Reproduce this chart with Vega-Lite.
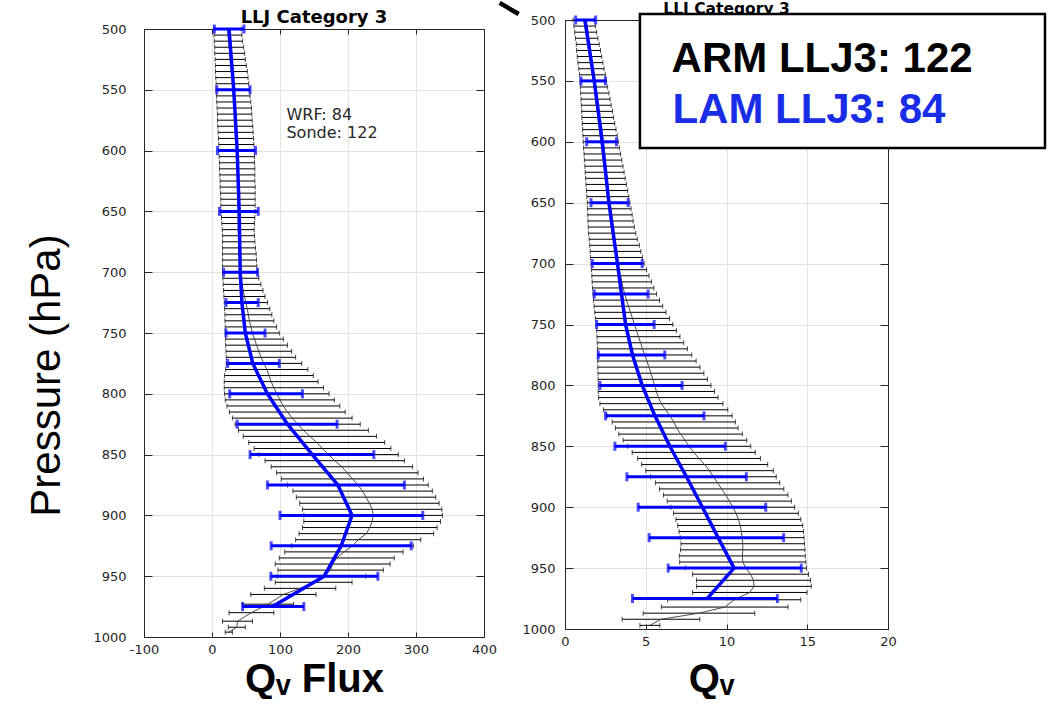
{
  "$schema": "https://vega.github.io/schema/vega-lite/v6.json",
  "background": "white",
  "padding": {"left": 25, "top": 0, "right": 0, "bottom": 0},
  "bounds": "flush",
  "spacing": 81,
  "config": {
    "view": {"stroke": null},
    "axis": {
      "domainColor": "#262626",
      "domainWidth": 1,
      "tickColor": "#262626",
      "tickWidth": 1,
      "labelColor": "#262626",
      "labelFont": "DejaVu Sans",
      "labelFontSize": 13,
      "labelFlush": false,
      "gridColor": "#e3e3e3",
      "gridWidth": 1,
      "titleColor": "#000000",
      "titleFont": "Liberation Sans"
    }
  },
  "datasets": {
    "sondeFlux": [
      {"p": 500, "lo": 3, "hi": 43, "mean": 23},
      {"p": 505, "lo": 3, "hi": 44, "mean": 23.5},
      {"p": 510, "lo": 3.5, "hi": 45, "mean": 24.3},
      {"p": 515, "lo": 4, "hi": 46.5, "mean": 25.3},
      {"p": 520, "lo": 4, "hi": 48, "mean": 26},
      {"p": 525, "lo": 4.5, "hi": 49, "mean": 26.8},
      {"p": 530, "lo": 5, "hi": 50.5, "mean": 27.8},
      {"p": 535, "lo": 5, "hi": 52, "mean": 28.5},
      {"p": 540, "lo": 5.5, "hi": 53, "mean": 29.3},
      {"p": 545, "lo": 6, "hi": 54, "mean": 30},
      {"p": 550, "lo": 6, "hi": 55, "mean": 30.5},
      {"p": 555, "lo": 6.5, "hi": 56, "mean": 31.3},
      {"p": 560, "lo": 7, "hi": 57, "mean": 32},
      {"p": 565, "lo": 7.5, "hi": 58, "mean": 32.8},
      {"p": 570, "lo": 8, "hi": 58.5, "mean": 33.3},
      {"p": 575, "lo": 8, "hi": 59, "mean": 33.5},
      {"p": 580, "lo": 8.5, "hi": 60, "mean": 34.3},
      {"p": 585, "lo": 9, "hi": 60.5, "mean": 34.8},
      {"p": 590, "lo": 9.5, "hi": 61, "mean": 35.3},
      {"p": 595, "lo": 10, "hi": 61.5, "mean": 35.8},
      {"p": 600, "lo": 10, "hi": 62, "mean": 36},
      {"p": 605, "lo": 10.5, "hi": 62.5, "mean": 36.5},
      {"p": 610, "lo": 11, "hi": 62.5, "mean": 36.8},
      {"p": 615, "lo": 11, "hi": 63, "mean": 37},
      {"p": 620, "lo": 11.5, "hi": 63, "mean": 37.3},
      {"p": 625, "lo": 12, "hi": 63, "mean": 37.5},
      {"p": 630, "lo": 12, "hi": 63.5, "mean": 37.8},
      {"p": 635, "lo": 12.5, "hi": 63.5, "mean": 38},
      {"p": 640, "lo": 13, "hi": 63.5, "mean": 38.3},
      {"p": 645, "lo": 13, "hi": 63.5, "mean": 38.3},
      {"p": 650, "lo": 13.5, "hi": 63.5, "mean": 38.5},
      {"p": 655, "lo": 14, "hi": 63, "mean": 38.5},
      {"p": 660, "lo": 14.5, "hi": 62.5, "mean": 38.5},
      {"p": 665, "lo": 15, "hi": 62, "mean": 38.5},
      {"p": 670, "lo": 15.5, "hi": 62.5, "mean": 39},
      {"p": 675, "lo": 15.5, "hi": 63, "mean": 39.3},
      {"p": 680, "lo": 15.5, "hi": 64, "mean": 39.8},
      {"p": 685, "lo": 15.5, "hi": 65, "mean": 40.3},
      {"p": 690, "lo": 15.5, "hi": 65.5, "mean": 40.5},
      {"p": 695, "lo": 15.5, "hi": 66, "mean": 40.8},
      {"p": 700, "lo": 15.5, "hi": 67, "mean": 41.3},
      {"p": 705, "lo": 16, "hi": 69, "mean": 42.5},
      {"p": 710, "lo": 16.5, "hi": 72, "mean": 44.3},
      {"p": 715, "lo": 17, "hi": 75, "mean": 46},
      {"p": 720, "lo": 17.5, "hi": 78, "mean": 47.8},
      {"p": 725, "lo": 18, "hi": 81.5, "mean": 49.8},
      {"p": 730, "lo": 18.5, "hi": 85, "mean": 51.8},
      {"p": 735, "lo": 19, "hi": 88, "mean": 53.5},
      {"p": 740, "lo": 19, "hi": 91, "mean": 55},
      {"p": 745, "lo": 19.5, "hi": 95, "mean": 57.3},
      {"p": 750, "lo": 19.5, "hi": 99, "mean": 59.3},
      {"p": 755, "lo": 20, "hi": 105, "mean": 62.5},
      {"p": 760, "lo": 20, "hi": 111, "mean": 65.5},
      {"p": 765, "lo": 20.5, "hi": 117, "mean": 68.8},
      {"p": 770, "lo": 21, "hi": 123, "mean": 72},
      {"p": 775, "lo": 21, "hi": 132, "mean": 76.5},
      {"p": 780, "lo": 20, "hi": 141, "mean": 80.5},
      {"p": 785, "lo": 18.5, "hi": 149, "mean": 83.8},
      {"p": 790, "lo": 18, "hi": 156, "mean": 87},
      {"p": 795, "lo": 18, "hi": 164, "mean": 91},
      {"p": 800, "lo": 18.5, "hi": 172, "mean": 95.3},
      {"p": 805, "lo": 19.5, "hi": 180, "mean": 99.8},
      {"p": 810, "lo": 22, "hi": 188, "mean": 105},
      {"p": 815, "lo": 25.5, "hi": 196, "mean": 110.8},
      {"p": 820, "lo": 30, "hi": 206, "mean": 118},
      {"p": 825, "lo": 34, "hi": 218, "mean": 126},
      {"p": 830, "lo": 39, "hi": 230, "mean": 134.5},
      {"p": 835, "lo": 46, "hi": 242, "mean": 144},
      {"p": 840, "lo": 54, "hi": 254, "mean": 154},
      {"p": 845, "lo": 62, "hi": 263, "mean": 162.5},
      {"p": 850, "lo": 69, "hi": 274, "mean": 171.5},
      {"p": 855, "lo": 78, "hi": 283, "mean": 180.5},
      {"p": 860, "lo": 87, "hi": 295, "mean": 191},
      {"p": 865, "lo": 95, "hi": 303, "mean": 199},
      {"p": 870, "lo": 102, "hi": 311, "mean": 206.5},
      {"p": 875, "lo": 111, "hi": 318, "mean": 214.5},
      {"p": 880, "lo": 119, "hi": 324, "mean": 221.5},
      {"p": 885, "lo": 124, "hi": 329, "mean": 226.5},
      {"p": 890, "lo": 129, "hi": 334, "mean": 231.5},
      {"p": 895, "lo": 133, "hi": 338, "mean": 235.5},
      {"p": 900, "lo": 135, "hi": 339, "mean": 237},
      {"p": 905, "lo": 135, "hi": 336, "mean": 235.5},
      {"p": 910, "lo": 133, "hi": 331, "mean": 232},
      {"p": 915, "lo": 128, "hi": 326, "mean": 227},
      {"p": 920, "lo": 123, "hi": 307, "mean": 215},
      {"p": 925, "lo": 117, "hi": 296, "mean": 206.5},
      {"p": 930, "lo": 107, "hi": 281, "mean": 194},
      {"p": 935, "lo": 99, "hi": 268, "mean": 183.5},
      {"p": 940, "lo": 93, "hi": 262, "mean": 177.5},
      {"p": 945, "lo": 97, "hi": 252, "mean": 174.5},
      {"p": 950, "lo": 96, "hi": 226, "mean": 161},
      {"p": 955, "lo": 93, "hi": 206, "mean": 149.5},
      {"p": 960, "lo": 77, "hi": 182, "mean": 129.5},
      {"p": 965, "lo": 57, "hi": 153, "mean": 105},
      {"p": 973, "lo": 45, "hi": 120, "mean": 82.5},
      {"p": 980, "lo": 25, "hi": 91, "mean": 58},
      {"p": 987, "lo": 15.5, "hi": 59.5, "mean": 37.5},
      {"p": 992, "lo": 24, "hi": 49, "mean": 36.5},
      {"p": 996, "lo": 19.5, "hi": 30, "mean": 24.8}
    ],
    "wrfFlux": [
      {"p": 500, "lo": 3.4, "mean": 25, "hi": 47},
      {"p": 550, "lo": 7, "mean": 32, "hi": 56},
      {"p": 600, "lo": 8, "mean": 37, "hi": 64},
      {"p": 650, "lo": 11, "mean": 40, "hi": 68},
      {"p": 700, "lo": 17, "mean": 41.5, "hi": 67},
      {"p": 725, "lo": 20.5, "mean": 44, "hi": 68},
      {"p": 750, "lo": 20.5, "mean": 49, "hi": 78},
      {"p": 775, "lo": 23, "mean": 60, "hi": 99},
      {"p": 800, "lo": 26, "mean": 81.5, "hi": 133},
      {"p": 825, "lo": 37, "mean": 111, "hi": 184},
      {"p": 850, "lo": 56, "mean": 147.5, "hi": 238},
      {"p": 875, "lo": 81.5, "mean": 185, "hi": 283},
      {"p": 900, "lo": 100, "mean": 206, "hi": 310},
      {"p": 925, "lo": 87, "mean": 190, "hi": 293},
      {"p": 950, "lo": 86.5, "mean": 165, "hi": 244},
      {"p": 975, "lo": 45, "mean": 89, "hi": 135}
    ],
    "sondeQv": [
      {"p": 500, "lo": 0.5, "hi": 1.8, "mean": 1.15},
      {"p": 505, "lo": 0.55, "hi": 1.88, "mean": 1.22},
      {"p": 510, "lo": 0.6, "hi": 1.96, "mean": 1.28},
      {"p": 515, "lo": 0.65, "hi": 2.04, "mean": 1.35},
      {"p": 520, "lo": 0.7, "hi": 2.12, "mean": 1.41},
      {"p": 525, "lo": 0.72, "hi": 2.2, "mean": 1.46},
      {"p": 530, "lo": 0.76, "hi": 2.27, "mean": 1.52},
      {"p": 535, "lo": 0.8, "hi": 2.35, "mean": 1.58},
      {"p": 540, "lo": 0.85, "hi": 2.42, "mean": 1.64},
      {"p": 545, "lo": 0.9, "hi": 2.5, "mean": 1.7},
      {"p": 550, "lo": 0.93, "hi": 2.57, "mean": 1.75},
      {"p": 555, "lo": 0.95, "hi": 2.64, "mean": 1.8},
      {"p": 560, "lo": 0.97, "hi": 2.72, "mean": 1.85},
      {"p": 565, "lo": 0.99, "hi": 2.79, "mean": 1.89},
      {"p": 570, "lo": 1.01, "hi": 2.86, "mean": 1.94},
      {"p": 575, "lo": 1.03, "hi": 2.94, "mean": 1.99},
      {"p": 580, "lo": 1.05, "hi": 3.01, "mean": 2.03},
      {"p": 585, "lo": 1.07, "hi": 3.08, "mean": 2.08},
      {"p": 590, "lo": 1.09, "hi": 3.16, "mean": 2.13},
      {"p": 595, "lo": 1.11, "hi": 3.23, "mean": 2.17},
      {"p": 600, "lo": 1.13, "hi": 3.3, "mean": 2.22},
      {"p": 605, "lo": 1.15, "hi": 3.37, "mean": 2.26},
      {"p": 610, "lo": 1.18, "hi": 3.44, "mean": 2.31},
      {"p": 615, "lo": 1.2, "hi": 3.52, "mean": 2.36},
      {"p": 620, "lo": 1.23, "hi": 3.59, "mean": 2.41},
      {"p": 625, "lo": 1.25, "hi": 3.66, "mean": 2.46},
      {"p": 630, "lo": 1.28, "hi": 3.73, "mean": 2.51},
      {"p": 635, "lo": 1.3, "hi": 3.8, "mean": 2.55},
      {"p": 640, "lo": 1.33, "hi": 3.88, "mean": 2.61},
      {"p": 645, "lo": 1.35, "hi": 3.95, "mean": 2.65},
      {"p": 650, "lo": 1.38, "hi": 4.02, "mean": 2.7},
      {"p": 655, "lo": 1.39, "hi": 4.09, "mean": 2.74},
      {"p": 660, "lo": 1.41, "hi": 4.16, "mean": 2.79},
      {"p": 665, "lo": 1.42, "hi": 4.22, "mean": 2.82},
      {"p": 670, "lo": 1.44, "hi": 4.29, "mean": 2.87},
      {"p": 675, "lo": 1.46, "hi": 4.38, "mean": 2.92},
      {"p": 680, "lo": 1.5, "hi": 4.48, "mean": 2.99},
      {"p": 685, "lo": 1.53, "hi": 4.6, "mean": 3.07},
      {"p": 690, "lo": 1.56, "hi": 4.7, "mean": 3.13},
      {"p": 695, "lo": 1.58, "hi": 4.8, "mean": 3.19},
      {"p": 700, "lo": 1.61, "hi": 4.9, "mean": 3.26},
      {"p": 705, "lo": 1.63, "hi": 5.05, "mean": 3.34},
      {"p": 710, "lo": 1.66, "hi": 5.2, "mean": 3.43},
      {"p": 715, "lo": 1.68, "hi": 5.35, "mean": 3.52},
      {"p": 720, "lo": 1.7, "hi": 5.5, "mean": 3.6},
      {"p": 725, "lo": 1.73, "hi": 5.67, "mean": 3.7},
      {"p": 730, "lo": 1.76, "hi": 5.85, "mean": 3.81},
      {"p": 735, "lo": 1.8, "hi": 6.05, "mean": 3.93},
      {"p": 740, "lo": 1.84, "hi": 6.25, "mean": 4.05},
      {"p": 745, "lo": 1.88, "hi": 6.47, "mean": 4.18},
      {"p": 750, "lo": 1.92, "hi": 6.68, "mean": 4.3},
      {"p": 755, "lo": 1.96, "hi": 6.9, "mean": 4.43},
      {"p": 760, "lo": 1.98, "hi": 7.12, "mean": 4.55},
      {"p": 765, "lo": 2.0, "hi": 7.35, "mean": 4.68},
      {"p": 770, "lo": 2.01, "hi": 7.58, "mean": 4.8},
      {"p": 775, "lo": 2.02, "hi": 7.85, "mean": 4.94},
      {"p": 780, "lo": 2.02, "hi": 8.12, "mean": 5.07},
      {"p": 785, "lo": 2.03, "hi": 8.36, "mean": 5.2},
      {"p": 790, "lo": 2.04, "hi": 8.6, "mean": 5.32},
      {"p": 795, "lo": 2.05, "hi": 8.82, "mean": 5.44},
      {"p": 800, "lo": 2.06, "hi": 9.04, "mean": 5.55},
      {"p": 805, "lo": 2.06, "hi": 9.26, "mean": 5.66},
      {"p": 810, "lo": 2.08, "hi": 9.48, "mean": 5.78},
      {"p": 815, "lo": 2.16, "hi": 9.78, "mean": 5.97},
      {"p": 820, "lo": 2.38, "hi": 10.08, "mean": 6.23},
      {"p": 825, "lo": 2.62, "hi": 10.35, "mean": 6.49},
      {"p": 830, "lo": 2.92, "hi": 10.55, "mean": 6.74},
      {"p": 835, "lo": 3.12, "hi": 10.72, "mean": 6.92},
      {"p": 840, "lo": 3.33, "hi": 10.98, "mean": 7.16},
      {"p": 845, "lo": 3.6, "hi": 11.25, "mean": 7.43},
      {"p": 850, "lo": 3.88, "hi": 11.5, "mean": 7.69},
      {"p": 855, "lo": 4.16, "hi": 11.78, "mean": 7.97},
      {"p": 860, "lo": 4.5, "hi": 12.1, "mean": 8.3},
      {"p": 865, "lo": 4.75, "hi": 12.55, "mean": 8.65},
      {"p": 870, "lo": 5.0, "hi": 12.9, "mean": 8.95},
      {"p": 875, "lo": 5.3, "hi": 13.08, "mean": 9.19},
      {"p": 880, "lo": 5.6, "hi": 13.3, "mean": 9.45},
      {"p": 885, "lo": 5.85, "hi": 13.55, "mean": 9.7},
      {"p": 890, "lo": 6.1, "hi": 13.8, "mean": 9.95},
      {"p": 895, "lo": 6.33, "hi": 14.02, "mean": 10.18},
      {"p": 900, "lo": 6.55, "hi": 14.22, "mean": 10.39},
      {"p": 905, "lo": 6.72, "hi": 14.45, "mean": 10.59},
      {"p": 910, "lo": 6.87, "hi": 14.6, "mean": 10.74},
      {"p": 915, "lo": 6.98, "hi": 14.72, "mean": 10.85},
      {"p": 920, "lo": 7.06, "hi": 14.77, "mean": 10.92},
      {"p": 925, "lo": 7.13, "hi": 14.8, "mean": 10.97},
      {"p": 930, "lo": 7.18, "hi": 14.83, "mean": 11.01},
      {"p": 935, "lo": 7.15, "hi": 14.86, "mean": 11.01},
      {"p": 940, "lo": 7.08, "hi": 14.88, "mean": 10.98},
      {"p": 945, "lo": 7.1, "hi": 14.91, "mean": 11.01},
      {"p": 950, "lo": 7.45, "hi": 14.95, "mean": 11.2},
      {"p": 955, "lo": 7.9, "hi": 15.08, "mean": 11.49},
      {"p": 960, "lo": 8.14, "hi": 15.2, "mean": 11.67},
      {"p": 965, "lo": 8.14, "hi": 15.25, "mean": 11.7},
      {"p": 970, "lo": 7.9, "hi": 14.98, "mean": 11.44},
      {"p": 976, "lo": 6.35, "hi": 14.6, "mean": 10.48},
      {"p": 982, "lo": 5.97, "hi": 13.81, "mean": 9.89},
      {"p": 987, "lo": 4.84, "hi": 11.75, "mean": 8.3},
      {"p": 992, "lo": 3.54, "hi": 8.35, "mean": 5.95},
      {"p": 997, "lo": 4.64, "hi": 5.87, "mean": 5.26}
    ],
    "wrfQv": [
      {"p": 500, "lo": 0.66, "mean": 1.24, "hi": 1.9},
      {"p": 550, "lo": 0.99, "mean": 1.81, "hi": 2.5},
      {"p": 600, "lo": 1.34, "mean": 2.31, "hi": 3.19},
      {"p": 650, "lo": 1.61, "mean": 2.72, "hi": 3.91},
      {"p": 700, "lo": 1.69, "mean": 3.25, "hi": 4.78},
      {"p": 725, "lo": 1.81, "mean": 3.5, "hi": 5.15},
      {"p": 750, "lo": 1.96, "mean": 3.75, "hi": 5.52},
      {"p": 775, "lo": 2.06, "mean": 4.18, "hi": 6.18},
      {"p": 800, "lo": 2.16, "mean": 4.78, "hi": 7.25},
      {"p": 825, "lo": 2.51, "mean": 5.57, "hi": 8.61},
      {"p": 850, "lo": 3.09, "mean": 6.49, "hi": 9.93},
      {"p": 875, "lo": 3.83, "mean": 7.52, "hi": 11.23},
      {"p": 900, "lo": 4.53, "mean": 8.51, "hi": 12.43},
      {"p": 925, "lo": 5.21, "mean": 9.48, "hi": 13.54},
      {"p": 950, "lo": 6.39, "mean": 10.47, "hi": 14.63},
      {"p": 975, "lo": 4.18, "mean": 8.8, "hi": 13.15}
    ]
  },
  "hconcat": [
    {
      "width": 340,
      "height": 608,
      "resolve": {"axis": {"x": "independent", "y": "independent"}},
      "layer": [
        {
          "data": {"name": "sondeFlux"},
          "mark": {"type": "rule", "color": "#000000", "strokeWidth": 1},
          "encoding": {
            "x": {
              "field": "lo", "type": "quantitative",
              "scale": {"domain": [-100, 400], "nice": false, "zero": false},
              "axis": {
                "orient": "bottom", "values": [-100, 0, 100, 200, 300, 400],
                "grid": true, "tickSize": -5, "labelPadding": 11,
                "labelExpr": "datum.value < 0 ? '-' + (-datum.value) : datum.label",
                "title": "Qᵥ Flux", "titleFontSize": 40, "titleFontWeight": "bold", "titlePadding": 3
              }
            },
            "x2": {"field": "hi"},
            "y": {
              "field": "p", "type": "quantitative",
              "scale": {"domain": [500, 1000], "reverse": true, "nice": false, "zero": false},
              "axis": {
                "orient": "left", "values": [500, 550, 600, 650, 700, 750, 800, 850, 900, 950, 1000],
                "format": "d", "grid": true, "tickSize": -8, "labelPadding": 26,
                "title": "Pressure (hPa)", "titleFontSize": 42, "titleFontWeight": "normal",
                "titlePadding": 24.5, "titleY": 346
              }
            }
          }
        },
        {
          "data": {"name": "sondeFlux"},
          "mark": {"type": "tick", "orient": "vertical", "size": 5, "thickness": 1, "color": "#000000"},
          "encoding": {
            "x": {"field": "lo", "type": "quantitative",
              "axis": {"orient": "top", "values": [-100, 0, 100, 200, 300, 400], "labels": false, "grid": false, "tickSize": -5, "title": null}},
            "y": {"field": "p", "type": "quantitative",
              "axis": {"orient": "right", "values": [500, 550, 600, 650, 700, 750, 800, 850, 900, 950, 1000], "labels": false, "grid": false, "tickSize": -8, "title": null}}
          }
        },
        {
          "data": {"name": "sondeFlux"},
          "mark": {"type": "tick", "orient": "vertical", "size": 5, "thickness": 1, "color": "#000000"},
          "encoding": {
            "x": {"field": "hi", "type": "quantitative", "axis": null},
            "y": {"field": "p", "type": "quantitative", "axis": null}
          }
        },
        {
          "data": {"name": "sondeFlux"},
          "mark": {"type": "line", "color": "#3a3a3a", "strokeWidth": 0.9},
          "encoding": {
            "x": {"field": "mean", "type": "quantitative", "axis": null},
            "y": {"field": "p", "type": "quantitative", "axis": null},
            "order": {"field": "p", "type": "quantitative"}
          }
        },
        {
          "data": {"name": "wrfFlux"},
          "mark": {"type": "rule", "color": "#0000ff", "strokeWidth": 3},
          "encoding": {
            "x": {"field": "lo", "type": "quantitative", "axis": null},
            "x2": {"field": "hi"},
            "y": {"field": "p", "type": "quantitative", "axis": null}
          }
        },
        {
          "data": {"name": "wrfFlux"},
          "mark": {"type": "tick", "orient": "vertical", "size": 9, "thickness": 3, "color": "#0000ff"},
          "encoding": {
            "x": {"field": "lo", "type": "quantitative", "axis": null},
            "y": {"field": "p", "type": "quantitative", "axis": null}
          }
        },
        {
          "data": {"name": "wrfFlux"},
          "mark": {"type": "tick", "orient": "vertical", "size": 9, "thickness": 3, "color": "#0000ff"},
          "encoding": {
            "x": {"field": "hi", "type": "quantitative", "axis": null},
            "y": {"field": "p", "type": "quantitative", "axis": null}
          }
        },
        {
          "data": {"name": "wrfFlux"},
          "mark": {"type": "line", "color": "#0000ff", "strokeWidth": 3.5},
          "encoding": {
            "x": {"field": "mean", "type": "quantitative", "axis": null},
            "y": {"field": "p", "type": "quantitative", "axis": null},
            "order": {"field": "p", "type": "quantitative"}
          }
        },
        {
          "data": {"values": [
            {"label": "WRF: 84", "flux": 109.5, "p": 575},
            {"label": "Sonde: 122", "flux": 109.5, "p": 589.4}
          ]},
          "mark": {"type": "text", "align": "left", "baseline": "alphabetic", "font": "DejaVu Sans", "fontSize": 16, "color": "#262626"},
          "encoding": {
            "x": {"field": "flux", "type": "quantitative", "axis": null},
            "y": {"field": "p", "type": "quantitative", "axis": null},
            "text": {"field": "label"}
          }
        },
        {
          "data": {"values": [{"label": "LLJ Category 3", "flux": 150, "p": 494.7}]},
          "mark": {"type": "text", "align": "center", "baseline": "alphabetic", "font": "DejaVu Sans", "fontWeight": "bold", "fontSize": 18, "color": "#000000"},
          "encoding": {
            "x": {"field": "flux", "type": "quantitative", "axis": null},
            "y": {"field": "p", "type": "quantitative", "axis": null},
            "text": {"field": "label"}
          }
        },
        {
          "data": {"values": [{"x0": 423, "x1": 451, "p0": 478.5, "p1": 487.7}]},
          "mark": {"type": "rule", "color": "#000000", "strokeWidth": 4.5},
          "encoding": {
            "x": {"field": "x0", "type": "quantitative", "axis": null},
            "x2": {"field": "x1"},
            "y": {"field": "p0", "type": "quantitative", "axis": null},
            "y2": {"field": "p1"}
          }
        }
      ]
    },
    {
      "width": 323,
      "height": 600,
      "resolve": {"axis": {"x": "independent", "y": "independent"}},
      "layer": [
        {
          "data": {"name": "sondeQv"},
          "mark": {"type": "rule", "color": "#000000", "strokeWidth": 1},
          "encoding": {
            "x": {
              "field": "lo", "type": "quantitative",
              "scale": {"domain": [0, 20], "nice": false, "zero": false},
              "axis": {
                "orient": "bottom", "values": [0, 5, 10, 15, 20], "format": "d",
                "grid": true, "tickSize": -5, "labelPadding": 11,
                "title": "Qᵥ", "titleFontSize": 40, "titleFontWeight": "bold", "titlePadding": 11,
                "titleX": 146
              }
            },
            "x2": {"field": "hi"},
            "y": {
              "field": "p", "type": "quantitative",
              "scale": {"domain": [500, 1000], "range": [-9, 600], "nice": false, "zero": false},
              "axis": {
                "orient": "left", "values": [500, 550, 600, 650, 700, 750, 800, 850, 900, 950, 1000],
                "format": "d", "grid": true, "tickSize": -8, "labelPadding": 18, "title": null
              }
            }
          }
        },
        {
          "data": {"name": "sondeQv"},
          "mark": {"type": "tick", "orient": "vertical", "size": 5, "thickness": 1, "color": "#000000"},
          "encoding": {
            "x": {"field": "lo", "type": "quantitative",
              "axis": {"orient": "top", "values": [0, 5, 10, 15, 20], "labels": false, "grid": false, "tickSize": -5, "offset": 9, "title": null}},
            "y": {"field": "p", "type": "quantitative",
              "axis": {"orient": "right", "values": [500, 550, 600, 650, 700, 750, 800, 850, 900, 950, 1000], "labels": false, "grid": false, "tickSize": -8, "title": null}}
          }
        },
        {
          "data": {"name": "sondeQv"},
          "mark": {"type": "tick", "orient": "vertical", "size": 5, "thickness": 1, "color": "#000000"},
          "encoding": {
            "x": {"field": "hi", "type": "quantitative", "axis": null},
            "y": {"field": "p", "type": "quantitative", "axis": null}
          }
        },
        {
          "data": {"name": "sondeQv"},
          "mark": {"type": "line", "color": "#3a3a3a", "strokeWidth": 0.9},
          "encoding": {
            "x": {"field": "mean", "type": "quantitative", "axis": null},
            "y": {"field": "p", "type": "quantitative", "axis": null},
            "order": {"field": "p", "type": "quantitative"}
          }
        },
        {
          "data": {"name": "wrfQv"},
          "mark": {"type": "rule", "color": "#0000ff", "strokeWidth": 3},
          "encoding": {
            "x": {"field": "lo", "type": "quantitative", "axis": null},
            "x2": {"field": "hi"},
            "y": {"field": "p", "type": "quantitative", "axis": null}
          }
        },
        {
          "data": {"name": "wrfQv"},
          "mark": {"type": "tick", "orient": "vertical", "size": 9, "thickness": 3, "color": "#0000ff"},
          "encoding": {
            "x": {"field": "lo", "type": "quantitative", "axis": null},
            "y": {"field": "p", "type": "quantitative", "axis": null}
          }
        },
        {
          "data": {"name": "wrfQv"},
          "mark": {"type": "tick", "orient": "vertical", "size": 9, "thickness": 3, "color": "#0000ff"},
          "encoding": {
            "x": {"field": "hi", "type": "quantitative", "axis": null},
            "y": {"field": "p", "type": "quantitative", "axis": null}
          }
        },
        {
          "data": {"name": "wrfQv"},
          "mark": {"type": "line", "color": "#0000ff", "strokeWidth": 3.5},
          "encoding": {
            "x": {"field": "mean", "type": "quantitative", "axis": null},
            "y": {"field": "p", "type": "quantitative", "axis": null},
            "order": {"field": "p", "type": "quantitative"}
          }
        },
        {
          "data": {"values": [{"label": "LLJ Category 3", "qv": 10, "p": 495.2}]},
          "mark": {"type": "text", "align": "center", "baseline": "alphabetic", "font": "DejaVu Sans", "fontWeight": "bold", "fontSize": 15.5, "color": "#000000"},
          "encoding": {
            "x": {"field": "qv", "type": "quantitative", "axis": null},
            "y": {"field": "p", "type": "quantitative", "axis": null},
            "text": {"field": "label"}
          }
        },
        {
          "data": {"values": [{"qv0": 4.64, "qv1": 29.72, "p0": 495.1, "p1": 605.1}]},
          "mark": {"type": "rect", "fill": "#ffffff", "stroke": "#000000", "strokeWidth": 2.5},
          "encoding": {
            "x": {"field": "qv0", "type": "quantitative", "axis": null},
            "x2": {"field": "qv1"},
            "y": {"field": "p0", "type": "quantitative", "axis": null},
            "y2": {"field": "p1"}
          }
        },
        {
          "data": {"values": [
            {"label": "ARM LLJ3: 122", "source": "ARM", "qv": 6.6, "p": 543},
            {"label": "LAM LLJ3: 84", "source": "LAM", "qv": 6.65, "p": 584.6}
          ]},
          "mark": {"type": "text", "align": "left", "baseline": "alphabetic", "font": "Liberation Sans", "fontWeight": "bold", "fontSize": 42},
          "encoding": {
            "x": {"field": "qv", "type": "quantitative", "axis": null},
            "y": {"field": "p", "type": "quantitative", "axis": null},
            "text": {"field": "label"},
            "color": {"field": "source", "type": "nominal", "scale": {"domain": ["ARM", "LAM"], "range": ["#000000", "#1a2de6"]}, "legend": null}
          }
        }
      ]
    }
  ]
}
